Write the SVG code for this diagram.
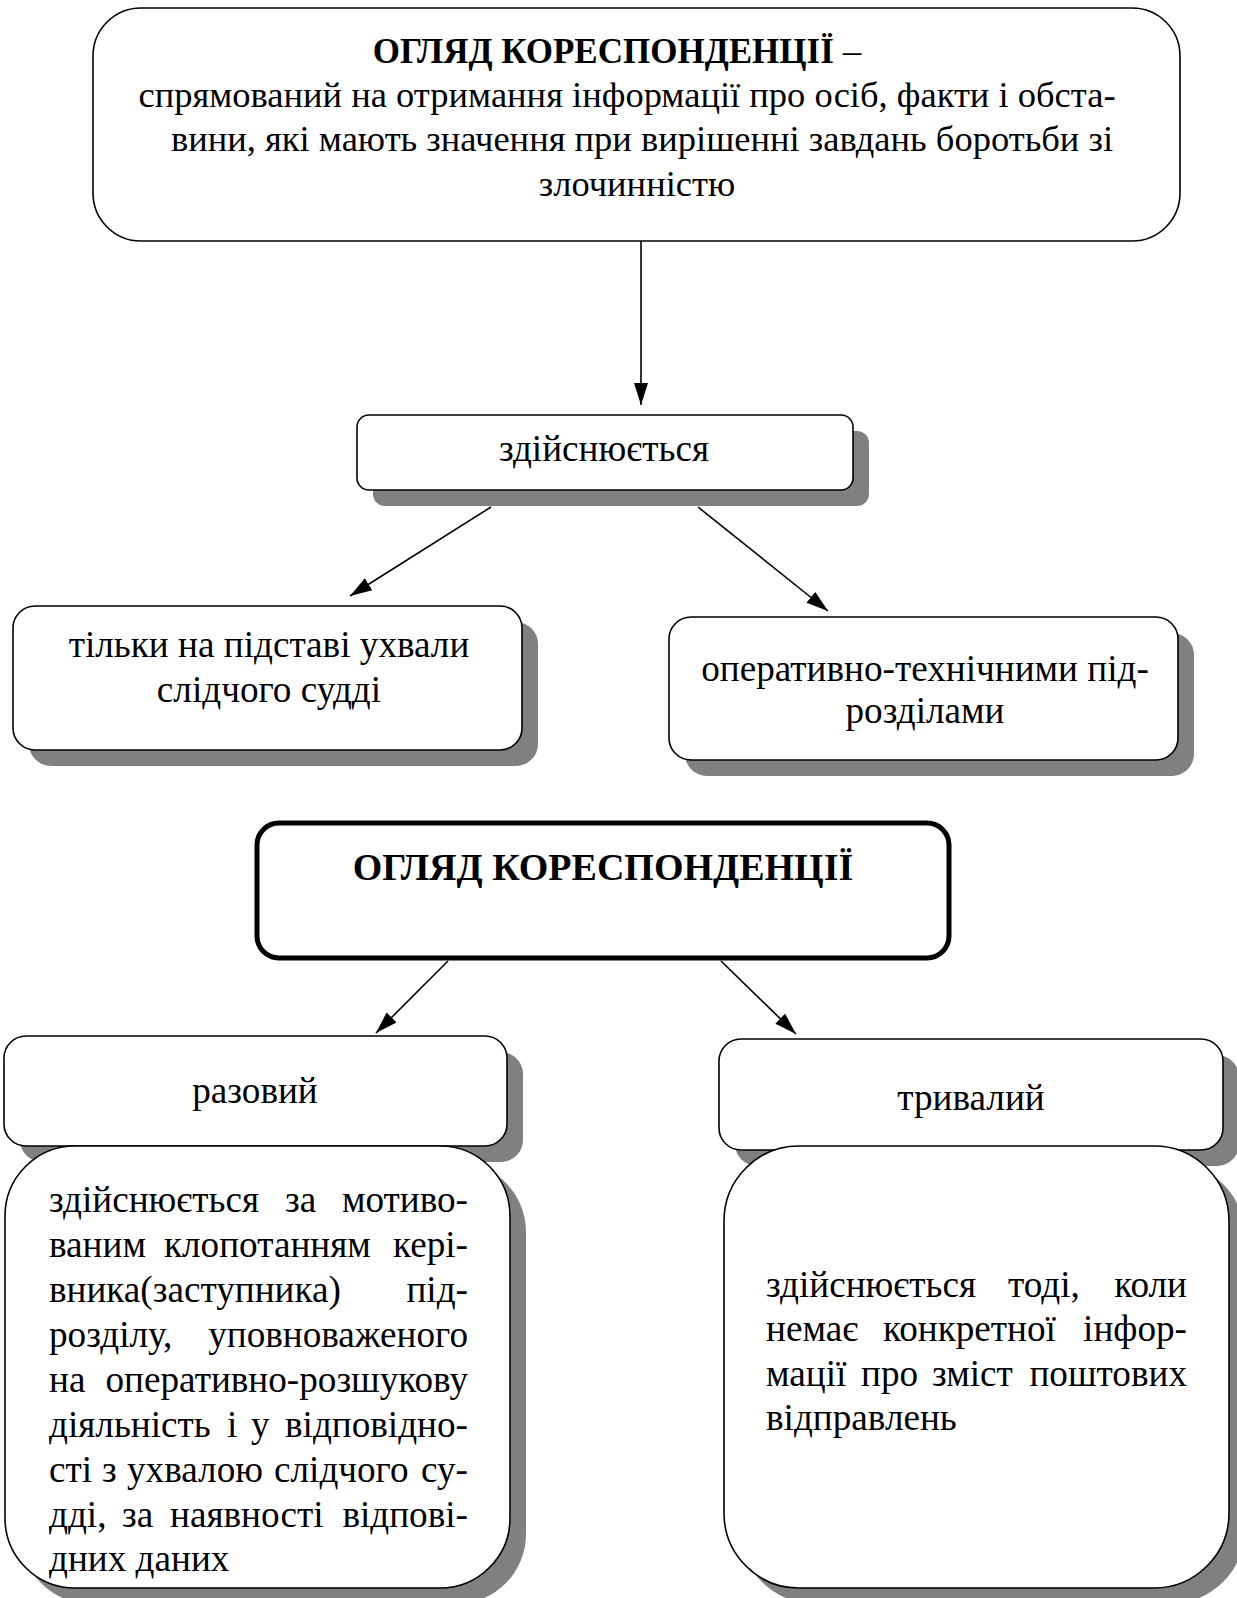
<svg xmlns="http://www.w3.org/2000/svg" width="1237" height="1598" viewBox="0 0 1237 1598">
<defs>
<marker id="arr" markerUnits="userSpaceOnUse" markerWidth="24" markerHeight="16" refX="22" refY="8" orient="auto">
<path d="M0,1 L22,8 L0,15 Z" fill="#000"/>
</marker>
<style>
.box{fill:#fff;stroke:#000;stroke-width:1.6}
.thick{fill:#fff;stroke:#000;stroke-width:5}
.sh{fill:#808080}
.t{font-family:"Liberation Serif","Times New Roman",serif;font-size:37.2px;fill:#000}
.s{font-size:36.5px}
.c{text-anchor:middle}
.e{text-anchor:end}
.b{font-weight:bold;font-size:35px}
.b2{font-weight:bold;font-size:38px}
.con{stroke:#000;stroke-width:1.6;fill:none;marker-end:url(#arr)}
</style>
</defs>
<rect width="1237" height="1598" fill="#fff"/>

<g id="top">
<rect class="box" x="93" y="8" width="1087" height="233" rx="48"/>
<text class="t s c" x="617" y="63"><tspan class="b">ОГЛЯД КОРЕСПОНДЕНЦІЇ</tspan> –</text>
<text class="t s c" x="627" y="107">спрямований на отримання інформації про осіб, факти і обста-</text>
<text class="t s c" x="642" y="151">вини, які мають значення при вирішенні завдань боротьби зі</text>
<text class="t s c" x="637" y="196">злочинністю</text>
</g>

<g id="zdiysn">
<rect class="sh" x="373" y="431" width="496" height="75" rx="12"/>
<rect class="box" x="357" y="415" width="496" height="75" rx="12"/>
<text class="t c" x="604" y="461">здійснюється</text>
</g>

<g id="ukhvala">
<rect class="sh" x="29" y="622" width="509" height="144" rx="22"/>
<rect class="box" x="13" y="606" width="509" height="144" rx="22"/>
<text class="t c" x="269" y="657">тільки на підставі ухвали</text>
<text class="t c" x="269" y="702">слідчого судді</text>
</g>

<g id="pidrozdily">
<rect class="sh" x="685" y="633" width="509" height="143" rx="22"/>
<rect class="box" x="669" y="617" width="509" height="143" rx="22"/>
<text class="t c" x="925" y="681">оперативно-технічними під-</text>
<text class="t c" x="925" y="723">розділами</text>
</g>

<g id="title2">
<rect class="thick" x="257" y="823" width="692" height="135" rx="22"/>
<text class="t c b2" x="603" y="880">ОГЛЯД КОРЕСПОНДЕНЦІЇ</text>
</g>

<g id="razovyi">
<rect class="sh" x="20" y="1052" width="503" height="110" rx="22"/>
<rect class="box" x="4" y="1036" width="503" height="110" rx="22"/>
<text class="t c" x="255" y="1103">разовий</text>
</g>

<g id="tryvalyi">
<rect class="sh" x="735" y="1055" width="504" height="111" rx="22"/>
<rect class="box" x="719" y="1039" width="504" height="111" rx="22"/>
<text class="t c" x="971" y="1110">тривалий</text>
</g>

<g id="razovyi-desc">
<rect class="sh" x="21" y="1162" width="505" height="442" rx="70"/>
<rect class="box" x="5" y="1146" width="505" height="442" rx="70"/>
<text class="t" y="1212"><tspan x="49">здійснюється</tspan><tspan x="285">за</tspan></text>
<text class="t e" x="468" y="1212">мотиво-</text>
<text class="t" y="1257"><tspan x="49">ваним</tspan><tspan x="164">клопотанням</tspan></text>
<text class="t e" x="468" y="1257">кері-</text>
<text class="t" x="49" y="1302">вника(заступника)</text>
<text class="t e" x="468" y="1302">під-</text>
<text class="t" x="49" y="1347">розділу,</text>
<text class="t e" x="468" y="1347">уповноваженого</text>
<text class="t" x="49" y="1392">на</text>
<text class="t e" x="468" y="1392">оперативно-розшукову</text>
<text class="t" y="1437"><tspan x="49">діяльність</tspan><tspan x="227">і</tspan><tspan x="251">у</tspan></text>
<text class="t e" x="468" y="1437">відповідно-</text>
<text class="t" y="1482"><tspan x="49">сті</tspan><tspan x="102">з</tspan><tspan x="127">ухвалою</tspan><tspan x="274">слідчого</tspan></text>
<text class="t e" x="468" y="1482">су-</text>
<text class="t" y="1527"><tspan x="49">дді,</tspan><tspan x="122">за</tspan><tspan x="170">наявності</tspan></text>
<text class="t e" x="468" y="1527">відпові-</text>
<text class="t" x="49" y="1571">дних даних</text>
</g>

<g id="tryvalyi-desc">
<rect class="sh" x="740" y="1162" width="505" height="442" rx="75"/>
<rect class="box" x="724" y="1146" width="505" height="442" rx="75"/>
<text class="t" y="1297"><tspan x="766">здійснюється</tspan><tspan x="1008">тоді,</tspan></text>
<text class="t e" x="1187" y="1297">коли</text>
<text class="t" y="1341"><tspan x="766">немає</tspan><tspan x="883">конкретної</tspan></text>
<text class="t e" x="1187" y="1341">інфор-</text>
<text class="t" y="1386"><tspan x="766">мації</tspan><tspan x="861">про</tspan><tspan x="932">зміст</tspan></text>
<text class="t e" x="1187" y="1386">поштових</text>
<text class="t" x="766" y="1430">відправлень</text>
</g>

<g id="connectors">
<line class="con" x1="641" y1="241" x2="641" y2="405"/>
<line class="con" x1="491" y1="507" x2="350" y2="596"/>
<line class="con" x1="698" y1="507" x2="828" y2="611"/>
<line class="con" x1="448" y1="961" x2="376" y2="1033"/>
<line class="con" x1="721" y1="961" x2="796" y2="1034"/>
</g>
</svg>
